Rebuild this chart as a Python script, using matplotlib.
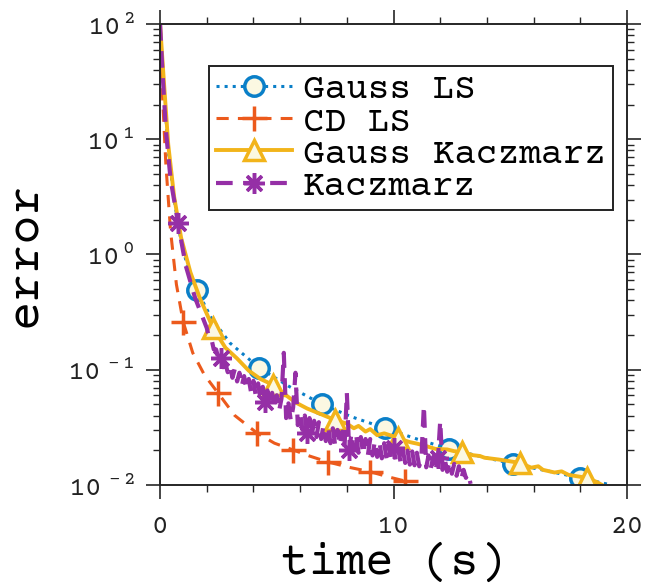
import matplotlib
matplotlib.use("Agg")
import matplotlib.pyplot as plt
from matplotlib.ticker import MultipleLocator, LogLocator, NullFormatter, FuncFormatter
import numpy as np

plt.rcParams['font.family'] = ['Courier Prime', 'FreeMono', 'DejaVu Sans']
plt.rcParams['mathtext.fontset'] = 'custom'
plt.rcParams['mathtext.rm'] = 'Courier Prime'
plt.rcParams['axes.unicode_minus'] = False

# Gauss LS
gls_t = [0, 0.15, 0.35, 0.6, 0.9, 1.2, 1.58, 2.2, 3.0, 4.24, 5.5, 6.94, 8.2, 9.64,
         11.0, 12.38, 13.8, 15.12, 16.6, 17.99, 19.3]
gls_e = [100, 30, 8, 3, 1.3, 0.75, 0.49, 0.28, 0.17, 0.104, 0.072, 0.050, 0.039, 0.031,
         0.025, 0.0205, 0.0175, 0.0152, 0.0132, 0.0115, 0.0100]
gls_mark = [6, 9, 11, 13, 15, 17, 19]

# CD LS
cd_t = [0, 0.1, 0.25, 0.45, 0.7, 0.99, 1.4, 1.9, 2.48, 3.2, 4.15, 4.9, 5.70, 6.4,
        7.19, 8.1, 9.0, 9.8, 10.49, 10.7]
cd_e = [100, 25, 6, 1.6, 0.55, 0.26, 0.14, 0.09, 0.0628, 0.040, 0.0282, 0.023, 0.0201, 0.0178,
        0.0158, 0.0142, 0.0130, 0.0117, 0.0108, 0.0104]
cd_mark = [5, 8, 10, 12, 14, 16, 18]

# Gauss Kaczmarz
gk_t = [0, 0.15, 0.35, 0.6, 0.9, 1.3, 1.7, 2.27, 2.8, 3.3, 3.8, 4.3, 4.84, 5.3, 5.8,
        6.3, 6.9, 7.49, 8.0, 8.3, 8.5, 8.8, 9.0, 9.3, 9.6, 10.19, 10.5, 10.7, 11.0, 11.3,
        11.8, 12.3, 12.6, 12.93, 13.4, 13.7, 13.9, 14.5, 15.0, 15.42, 15.9, 16.2, 16.4,
        16.9, 17.2, 17.5, 18.29, 18.7, 19.0]
gk_e = [100, 35, 9, 3.2, 1.4, 0.7, 0.42, 0.23, 0.155, 0.125, 0.098, 0.083, 0.0738, 0.062, 0.052,
        0.046, 0.041, 0.0366, 0.034, 0.031, 0.0325, 0.029, 0.0305, 0.027, 0.028, 0.0256, 0.0242, 0.0235,
        0.0228, 0.022, 0.0205, 0.0203, 0.0196, 0.0193, 0.0181, 0.0178, 0.0172, 0.0166, 0.0160, 0.0155,
        0.0141, 0.0145, 0.0135, 0.0128, 0.0131, 0.0122, 0.0115, 0.0106, 0.0098]
gk_mark = [7, 12, 17, 25, 33, 39, 46]

# Kaczmarz (noisy)
kz_t = [0, 0.1, 0.25, 0.45, 0.77, 1.1, 1.5,
        2.0, 2.1, 2.2, 2.3, 2.4, 2.5, 2.6, 2.7, 2.8, 2.9,
        3.0, 3.1, 3.2, 3.3, 3.4, 3.5, 3.6, 3.7, 3.8, 3.9,
        4.0, 4.1, 4.2, 4.3, 4.4, 4.5, 4.6, 4.7, 4.8, 4.9,
        5.0, 5.1, 5.2, 5.3, 5.4, 5.5, 5.6, 5.7, 5.8, 5.9,
        6.0, 6.1, 6.2, 6.3, 6.4, 6.5, 6.6, 6.7, 6.8, 6.9,
        7.0, 7.1, 7.2, 7.3, 7.4, 7.5, 7.6, 7.7, 7.8, 7.9,
        8.0, 8.1, 8.2, 8.3, 8.4, 8.5, 8.6, 8.7, 8.8, 8.9,
        9.0, 9.1, 9.2, 9.3, 9.4, 9.5, 9.6, 9.7, 9.8, 9.9,
        10.0, 10.1, 10.2, 10.3, 10.4, 10.5, 10.6, 10.7, 10.8, 10.9,
        11.0, 11.1, 11.2, 11.3, 11.4, 11.5, 11.6, 11.7, 11.8, 11.9,
        12.0, 12.1, 12.2, 12.3, 12.4, 12.5, 12.6, 12.7, 12.8, 12.9,
        13.0, 13.1, 13.2, 13.3]
kz_e = [100, 40, 12, 4.5, 1.87, 0.8, 0.42,
        0.23, 0.19, 0.185, 0.15, 0.15, 0.125, 0.125, 0.105, 0.112, 0.095,
        0.108, 0.085, 0.101, 0.079, 0.094, 0.072, 0.088, 0.068, 0.083, 0.063,
        0.080, 0.059, 0.076, 0.056, 0.071, 0.052, 0.066, 0.049, 0.063, 0.046,
        0.060, 0.044, 0.056, 0.14, 0.038, 0.051, 0.036, 0.047, 0.094, 0.033,
        0.042, 0.030, 0.040, 0.028, 0.038, 0.027, 0.036, 0.026, 0.035, 0.025,
        0.033, 0.024, 0.032, 0.023, 0.031, 0.022, 0.030, 0.022, 0.029, 0.021,
        0.063, 0.020, 0.028, 0.020, 0.027, 0.019, 0.026, 0.0185, 0.025, 0.018,
        0.025, 0.018, 0.024, 0.0175, 0.0235, 0.017, 0.023, 0.017, 0.0225, 0.0165,
        0.021, 0.016, 0.0205, 0.0158, 0.020, 0.0155, 0.0198, 0.015, 0.0195, 0.0148,
        0.019, 0.0145, 0.0185, 0.049, 0.0142, 0.018, 0.014, 0.0175, 0.0135, 0.017,
        0.036, 0.0135, 0.0165, 0.013, 0.016, 0.0125, 0.0152, 0.012, 0.0145, 0.0112,
        0.0135, 0.0115, 0.0125, 0.0102]
kz_mark = [4, 13, 32, 50, 68, 87, 106]

blue = '#0a7fc8'
orange = '#ec5a1c'
yellow = '#f2b41a'
purple = '#952fa6'
face = '#fbf8e2'


def pow10(v, pos):
    k = int(round(np.log10(v)))
    return r'$10^{\,%d}$' % k


fig = plt.figure(figsize=(6.48, 5.87), dpi=100)
ax = fig.add_axes([0.247, 0.174, 0.7206, 0.785])

ax.plot(gls_t, gls_e, ':', color=blue, lw=2.2, marker='o', ms=14, mew=2.5,
        mfc=face, mec=blue, markevery=gls_mark, label='Gauss LS')
ax.plot(cd_t, cd_e, '--', color=orange, lw=2.2, marker='+', ms=18, mew=2.5,
        markevery=cd_mark, label='CD LS', dashes=(4, 3))
ax.plot(gk_t, gk_e, '-', color=yellow, lw=2.8, marker='^', ms=15, mew=2.5,
        mfc=face, mec=yellow, markevery=gk_mark, label='Gauss Kaczmarz')
ax.plot(kz_t, kz_e, '--', color=purple, lw=3.0, marker=(8, 2, 0), ms=15, mew=2.5,
        markevery=kz_mark, label='Kaczmarz', dashes=(4, 2.5))

ax.set_yscale('log')
ax.set_xlim(0, 20)
ax.set_ylim(1e-2, 1e2)
ax.xaxis.set_major_locator(MultipleLocator(10))
ax.xaxis.set_minor_locator(MultipleLocator(2))
ax.yaxis.set_major_locator(LogLocator(base=10, numticks=10))
ax.yaxis.set_minor_locator(LogLocator(base=10, subs=range(2, 10), numticks=10))
ax.yaxis.set_major_formatter(FuncFormatter(pow10))
ax.yaxis.set_minor_formatter(NullFormatter())

ax.tick_params(which='both', top=True, right=True, direction='out', colors='#262626',
               labelcolor='#222222', labelsize=20)
ax.tick_params(which='major', length=10, width=1.2)
ax.tick_params(which='minor', length=5, width=1.0)
ax.tick_params(axis='x', which='major', pad=12)
ax.tick_params(axis='y', which='major', pad=8)
for s in ax.spines.values():
    s.set_linewidth(1.4)
    s.set_color('#262626')

ax.set_xlabel('time (s)', fontsize=34, labelpad=3)
ax.set_ylabel('error', fontsize=35, labelpad=16)

leg = ax.legend(loc='upper right', bbox_to_anchor=(0.97, 0.909), borderaxespad=0,
                fontsize=26, fancybox=False, edgecolor='#222222', framealpha=1,
                handlelength=2.1, handletextpad=0.3, labelspacing=0.0,
                borderpad=0.2, numpoints=1)
leg.get_frame().set_linewidth(1.4)

fig.savefig('out.png', dpi=100)
